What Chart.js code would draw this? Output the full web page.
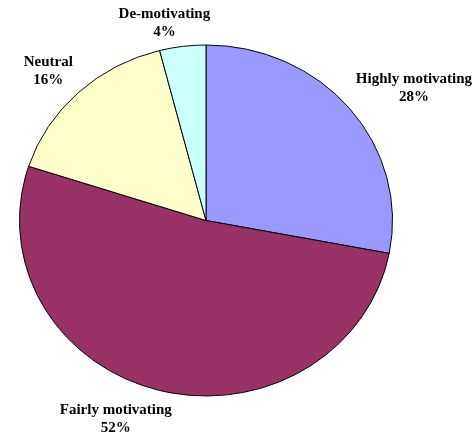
<!DOCTYPE html>
<html>
<head>
<meta charset="utf-8">
<script src="https://cdn.jsdelivr.net/npm/chart.js@4"></script>
<style>
  html, body { margin: 0; padding: 0; background: #ffffff; }
  #wrap { width: 474px; height: 441px; position: relative; }
</style>
</head>
<body>
<div id="wrap"><canvas id="pieChart" width="474" height="441"></canvas></div>
<script>
// Podatki grafa
const categories = ['Highly motivating', 'Fairly motivating', 'Neutral', 'De-motivating'];
const shares = [28, 52, 16, 4];
const sliceColors = ['#9999FF', '#993366', '#FFFFCC', '#CCFFFF'];

// Pita v originalu je rahlo sploščena (elipsa)
const squash = 0.941;

// Vtičnik: sploščitev pite + oznake zunaj rezin (ime + odstotek)
const ellipseAndLabels = {
    id: 'ellipseAndLabels',
    beforeDatasetsDraw(chart) {
        const arc = chart.getDatasetMeta(0).data[0];
        const ctx = chart.ctx;
        ctx.save();
        ctx.translate(arc.x, arc.y);
        ctx.scale(1, squash);
        ctx.translate(-arc.x, -arc.y);
    },
    afterDatasetsDraw(chart) {
        const ctx = chart.ctx;
        ctx.restore();

        const meta = chart.getDatasetMeta(0);
        const total = shares.reduce((a, b) => a + b, 0);
        const clamp = v => Math.max(-1, Math.min(1, v));
        ctx.save();
        ctx.font = 'bold 15px "Liberation Serif", "Times New Roman", serif';
        ctx.fillStyle = '#000000';
        ctx.textAlign = 'center';
        ctx.textBaseline = 'middle';
        const lineH = 18;
        meta.data.forEach((arc, i) => {
            const mid = (arc.startAngle + arc.endAngle) / 2;
            const dx = Math.cos(mid);
            const dy = Math.sin(mid);
            // točka na robu elipse + majhen razmik
            const ex = arc.x + arc.outerRadius * dx + 8 * dx;
            const ey = arc.y + arc.outerRadius * squash * dy + 8 * dy;
            const lines = [categories[i], Math.round(shares[i] / total * 100) + '%'];
            const w = Math.max(...lines.map(t => ctx.measureText(t).width));
            const h = lineH * lines.length;
            const cx = ex + w / 2 * clamp(dx * 3);
            const cy = ey + h / 2 * clamp(dy * 3) + 2.5;
            lines.forEach((t, j) => {
                ctx.fillText(t, cx, cy + (j - (lines.length - 1) / 2) * lineH);
            });
        });
        ctx.restore();
    }
};

const ctxPie = document.getElementById('pieChart').getContext('2d');
const pieChart = new Chart(ctxPie, {
    type: 'pie',
    data: {
        labels: categories,
        datasets: [{
            data: shares,
            backgroundColor: sliceColors,
            borderColor: '#000000',
            borderWidth: 1,
            borderAlign: 'center'
        }]
    },
    options: {
        responsive: false,
        animation: false,
        layout: {
            padding: { left: 19, right: 81, top: 33.5, bottom: 33.5 }
        },
        plugins: {
            legend: { display: false },
            tooltip: { enabled: false }
        }
    },
    plugins: [ellipseAndLabels]
});
</script>
</body>
</html>
